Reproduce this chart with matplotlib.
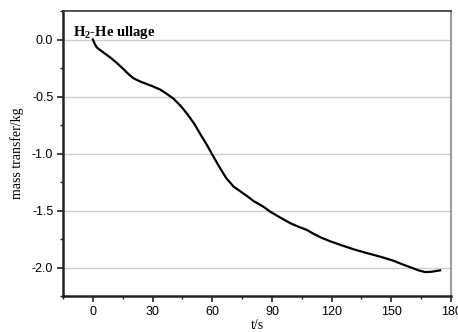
import matplotlib
matplotlib.use("Agg")
import matplotlib.pyplot as plt
from matplotlib.ticker import MultipleLocator

plt.rcParams["mathtext.fontset"] = "custom"
plt.rcParams["mathtext.rm"] = "Liberation Serif"
plt.rcParams["mathtext.bf"] = "Liberation Serif:bold"
plt.rcParams["mathtext.it"] = "Liberation Serif:italic"

t = [0, 1, 2, 5, 8.7, 12, 15.4, 18, 20.4, 24, 27, 30, 33.9, 37, 40.6, 44, 47.3, 51, 54, 57.5, 61, 64, 67, 70.7, 74, 78, 81, 84.1, 86, 89.1, 93, 96, 99.1, 103, 107.5, 111, 115, 119.3, 125, 131, 137, 144.4, 151, 156, 161, 164, 167, 170, 174.5]
mass = [0.0, -0.04, -0.07, -0.11, -0.157, -0.205, -0.26, -0.305, -0.34, -0.37, -0.39, -0.41, -0.44, -0.475, -0.52, -0.58, -0.65, -0.74, -0.83, -0.93, -1.04, -1.13, -1.215, -1.29, -1.33, -1.38, -1.42, -1.45, -1.47, -1.51, -1.55, -1.58, -1.61, -1.64, -1.67, -1.705, -1.74, -1.77, -1.805, -1.84, -1.87, -1.905, -1.94, -1.975, -2.007, -2.027, -2.04, -2.038, -2.025]

xticks = [0, 30, 60, 90, 120, 150, 180]
yticks = [0.0, -0.5, -1.0, -1.5, -2.0]

fig = plt.figure(figsize=(4.58, 3.32), dpi=100)
ax = fig.add_axes([63/458, 1-296/332, (451-63)/458, (296-11)/332])

ax.plot(t, mass, color="black", lw=1.6, zorder=3)
ax.set_xlim(-15, 180)
ax.set_ylim(-2.25, 0.25)
ax.set_xticks(xticks)
ax.set_yticks(yticks)
ax.set_xticklabels([str(v) for v in xticks], family="Liberation Sans", fontsize=9)
ax.set_yticklabels(["%.1f" % v for v in yticks], family="Liberation Sans", fontsize=9)
ax.xaxis.set_minor_locator(MultipleLocator(15))
ax.yaxis.set_minor_locator(MultipleLocator(0.25))
ax.tick_params(which="major", direction="out", length=4, width=1.2, color="#222222", pad=3)
ax.tick_params(which="minor", direction="out", length=2.5, width=1.0, color="#222222")
ax.grid(axis="y", which="major", color="#cccccc", lw=1.0, zorder=0)

for s in ["left", "bottom"]:
    ax.spines[s].set_linewidth(1.8)
    ax.spines[s].set_color("#222222")
ax.spines["top"].set_linewidth(1.2)
ax.spines["top"].set_color("#333333")
ax.spines["right"].set_linewidth(1.2)
ax.spines["right"].set_color("#888888")

ax.set_xlabel("t/s", family="Liberation Serif", fontsize=10, labelpad=1)
ax.set_ylabel("mass transfer/kg", family="Liberation Serif", fontsize=10, labelpad=6)
ax.text(0.025, 0.955, r"$\mathbf{H_2}$-He ullage", transform=ax.transAxes,
        family="Liberation Serif", fontweight="bold", fontsize=10.5, va="top", ha="left")

fig.savefig("out.png", dpi=100)
